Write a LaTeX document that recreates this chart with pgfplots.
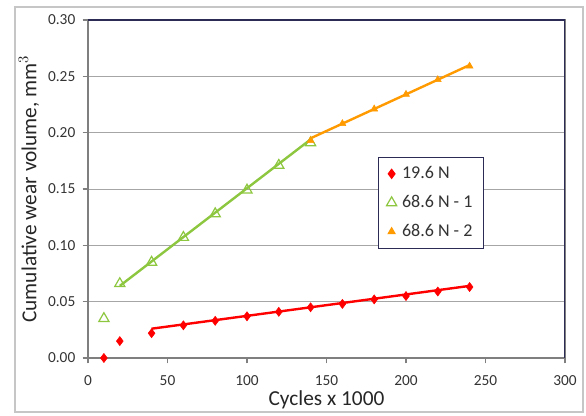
\documentclass[border=0pt]{standalone}
\usepackage{pgfplots}
\pgfplotsset{compat=1.18}
\usepackage{fontspec}
\setmainfont{Carlito}
\definecolor{redc}{HTML}{FF0000}
\definecolor{greenc}{HTML}{8DC63F}
\definecolor{orangec}{HTML}{FF9A00}
\definecolor{navy}{HTML}{2B2B55}
\definecolor{axgray}{HTML}{7F7F7F}
\begin{document}
\begin{tikzpicture}
\path (-66pt,-43.5pt) rectangle (373.5pt,268.5pt);
\draw[gray!45, line width=0.8pt] (-54.75pt,-40.5pt) rectangle (371.25pt,263.25pt);
\begin{axis}[
  at={(0,0)}, anchor=origin,
  scale only axis, width=357.75pt, height=253.5pt,
  xmin=0, xmax=300, ymin=0, ymax=0.30,
  xtick={0,50,...,300}, ytick={0,0.05,...,0.30},
  /pgf/number format/assume math mode=true,
  xticklabel style={font=\fontsize{11.5}{13}\selectfont, text=black!80, yshift=-6pt},
  yticklabel style={font=\fontsize{11.5}{13}\selectfont, text=black!80, xshift=-2pt, /pgf/number format/.cd, fixed, fixed zerofill, precision=2},
  scaled y ticks=false,
  tick align=outside, xtick pos=bottom, ytick pos=left,
  major tick length=4pt,
  tick style={axgray, line width=0.8pt},
  axis line style={axgray, line width=1.2pt},
  ymajorgrids, grid style={gray!70, line width=0.7pt},
  xlabel={Cycles x 1000}, ylabel={Cumulative wear volume, mm$^3$},
  label style={font=\fontsize{16}{18}\selectfont, text=black!85},
  xlabel style={at={(axis description cs:0.5,-0.124)}, anchor=center},
  ylabel style={at={(axis description cs:-0.124,0.5)}, anchor=center, rotate=0},
  legend style={at={(0.608,0.595)}, anchor=north west, draw=navy, line width=0.8pt,
    font=\fontsize{13.5}{15}\selectfont, text=black!80, row sep=7pt, column sep=2pt,
    inner xsep=6pt, inner ysep=5pt, cells={anchor=west}},
  legend cell align=left,
]
\addplot[only marks, mark=diamond*, mark size=3.4pt, color=redc] coordinates {
(10,0.000) (20,0.015) (40,0.022) (60,0.029) (80,0.033) (100,0.037) (120,0.041) (140,0.045) (160,0.048) (180,0.052) (200,0.055) (220,0.059) (240,0.063)};
\addlegendentry{19.6 N}
\addplot[only marks, mark=triangle, mark size=4.4pt, color=greenc, mark options={line width=0.9pt}] coordinates {
(10,0.035) (20,0.066) (40,0.085) (60,0.107) (80,0.128) (100,0.149) (120,0.171) (140,0.191)};
\addlegendentry{68.6 N - 1}
\addplot[only marks, mark=triangle*, mark size=3pt, color=orangec] coordinates {
(140,0.193) (160,0.208) (180,0.221) (200,0.234) (220,0.247) (240,0.259)};
\addlegendentry{68.6 N - 2}
\addplot[forget plot, redc, line width=1.8pt] coordinates {(40,0.026) (240,0.064)};
\addplot[forget plot, greenc, line width=1.8pt] coordinates {(20,0.064) (140,0.194)};
\addplot[forget plot, orangec, line width=1.8pt] coordinates {(140,0.195) (240,0.260)};
\draw[navy, line width=1.2pt] (rel axis cs:0,1) -- (rel axis cs:1,1) -- (rel axis cs:1,0);
\end{axis}
\end{tikzpicture}
\end{document}
